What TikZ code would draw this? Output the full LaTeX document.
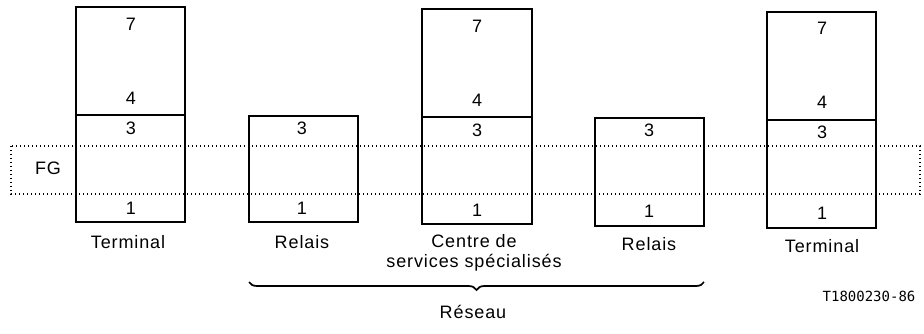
\documentclass[tikz,border=0pt]{standalone}
\usepackage{fontspec}
\setmainfont{Liberation Sans}
\newfontfamily\codefont{DejaVu Sans Mono}
\usetikzlibrary{decorations.pathreplacing}
\begin{document}
\begin{tikzpicture}[x=0.75pt,y=-0.75pt,
  box/.style={draw,line width=1.1pt},
  lbl/.style={font=\fontsize{13.5}{16}\selectfont\addfontfeature{LetterSpace=5},inner sep=0pt},
  num/.style={font=\fontsize{13.5}{16}\selectfont,inner sep=0pt},
  fg/.style={dotted,line width=1pt}]
\useasboundingbox (0,0) rectangle (924,333);
% FG dotted band
\draw[fg] (11,146) rectangle (920,194);
\node[lbl] (fg) at (48,168) {FG};
% Terminal left
\draw[box] (76,7) rectangle (185,222);
\draw[box] (76,115) -- (185,115);
\node[num] (t1n7) at (131,24) {7};
\node[num] (t1n4) at (131,98) {4};
\node[num] (t1n3) at (131,128) {3};
\node[num] (t1n1) at (131,208) {1};
\node[lbl] (t1) at (128,242) {Terminal};
% Relais left
\draw[box] (249,116) rectangle (358,222);
\node[num] (r1n3) at (302,128) {3};
\node[num] (r1n1) at (302,208) {1};
\node[lbl] (r1) at (302,242) {Relais};
% Centre
\draw[box] (422,9) rectangle (532,224);
\draw[box] (422,117) -- (532,117);
\node[num] (cn7) at (477,26) {7};
\node[num] (cn4) at (477,100) {4};
\node[num] (cn3) at (477,130) {3};
\node[num] (cn1) at (477,210) {1};
\node[lbl,align=center,font=\fontsize{13.5}{15.5}\selectfont\addfontfeature{LetterSpace=5}] (c) at (474,253) {Centre de\\services spécialisés};
% Relais right
\draw[box] (595,118) rectangle (704,226);
\node[num] (r2n3) at (649,130) {3};
\node[num] (r2n1) at (649,211) {1};
\node[lbl] (r2) at (649,244) {Relais};
% Terminal right
\draw[box] (767,12) rectangle (876,228);
\draw[box] (767,120) -- (876,120);
\node[num] (t2n7) at (822,28) {7};
\node[num] (t2n4) at (822,102) {4};
\node[num] (t2n3) at (822,132) {3};
\node[num] (t2n1) at (822,213) {1};
\node[lbl] (t2) at (822,246) {Terminal};
% brace
\coordinate (bl) at (249,282);
\coordinate (br) at (704,282);
\draw[line width=1.3pt,decorate,decoration={brace,mirror,amplitude=6pt}] (bl) -- (br);
\node[lbl] (res) at (473,312) {Réseau};
\node[font=\fontsize{10.5}{12}\selectfont\codefont,inner sep=0pt] (ref) at (869,296) {T1800230-86};
\end{tikzpicture}
\end{document}
